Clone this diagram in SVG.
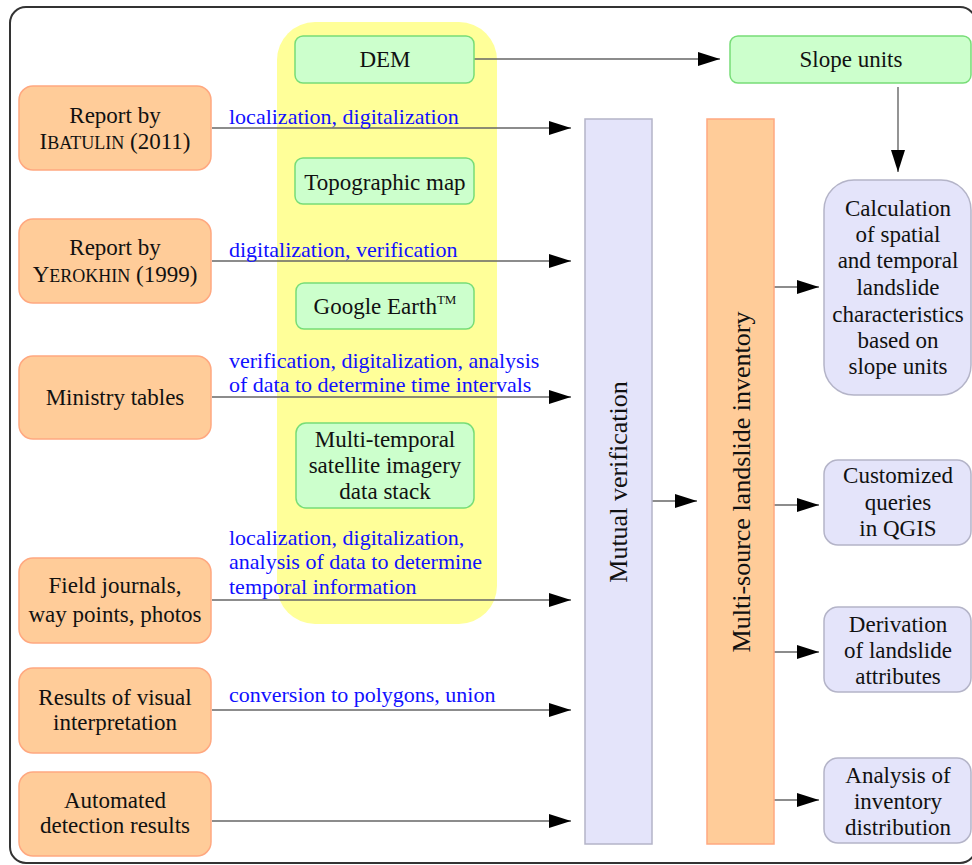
<svg xmlns="http://www.w3.org/2000/svg" width="972" height="865" viewBox="0 0 972 865">
<defs>
<style>
.t{font-family:"Liberation Serif","Times New Roman",serif;font-size:23px;fill:#111;text-anchor:middle}
.lbl{font-family:"Liberation Serif","Times New Roman",serif;font-size:22px;fill:#1010ff}
.big{font-family:"Liberation Serif","Times New Roman",serif;font-size:26px;fill:#111;text-anchor:middle}
.src{fill:#ffcc99;stroke:#ffa880;stroke-width:1.5}
.grn{fill:#ccffcc;stroke:#77dd77;stroke-width:1.5}
.lav{fill:#e4e4fa;stroke:#b4b4c8;stroke-width:1.5}
.ln{stroke:#666;stroke-width:1.4;fill:none;marker-end:url(#ah)}
</style>
<marker id="ah" markerUnits="userSpaceOnUse" markerWidth="22" markerHeight="14" refX="22" refY="7" orient="auto">
<path d="M0,0 L22,7 L0,14 z" fill="#000"/>
</marker>
</defs>
<rect width="972" height="865" fill="#fff"/>
<rect x="10" y="7" width="966" height="856" rx="16" fill="#fff" stroke="#333" stroke-width="2"/>
<rect id="bg-yellow" x="277" y="22" width="220" height="602" rx="38" fill="#ffff99"/>

<g id="connectors">
<line class="ln" x1="474" y1="59" x2="720" y2="59"/>
<line class="ln" x1="898" y1="87" x2="898" y2="172"/>
<line class="ln" x1="212" y1="128" x2="571" y2="128"/>
<line class="ln" x1="212" y1="261" x2="571" y2="261"/>
<line class="ln" x1="212" y1="397" x2="571" y2="397"/>
<line class="ln" x1="212" y1="600" x2="571" y2="600"/>
<line class="ln" x1="212" y1="710" x2="571" y2="710"/>
<line class="ln" x1="212" y1="821" x2="571" y2="821"/>
<line class="ln" x1="652" y1="501" x2="697" y2="501"/>
<line class="ln" x1="774" y1="287" x2="819" y2="287"/>
<line class="ln" x1="774" y1="505" x2="819" y2="505"/>
<line class="ln" x1="774" y1="652" x2="819" y2="652"/>
<line class="ln" x1="774" y1="800" x2="819" y2="800"/>
<text class="lbl" x="229" y="124">localization, digitalization</text>
<text class="lbl" x="229" y="257">digitalization, verification</text>
<text class="lbl" x="229" y="368">verification, digitalization, analysis</text>
<text class="lbl" x="229" y="392">of data to determine time intervals</text>
<text class="lbl" x="229" y="545">localization, digitalization,</text>
<text class="lbl" x="229" y="569">analysis of data to determine</text>
<text class="lbl" x="229" y="594">temporal information</text>
<text class="lbl" x="229" y="702">conversion to polygons, union</text>
</g>

<g id="dem"><rect class="grn" x="295" y="36" width="179" height="47" rx="8"/><text class="t" x="385" y="67">DEM</text></g>
<g id="topo"><rect class="grn" x="295" y="158" width="179" height="46" rx="8"/><text class="t" x="385" y="190">Topographic map</text></g>
<g id="google"><rect class="grn" x="296" y="283" width="178" height="46" rx="8"/><text class="t" x="385" y="314">Google Earth<tspan font-size="13" dy="-10">TM</tspan></text></g>
<g id="satellite"><rect class="grn" x="296" y="423" width="178" height="85" rx="10"/><text class="t" x="385" y="447">Multi-temporal</text><text class="t" x="385" y="473">satellite imagery</text><text class="t" x="385" y="499">data stack</text></g>

<g id="ibatulin"><rect class="src" x="19" y="86" width="192" height="84" rx="14"/><text class="t" x="115" y="123">Report by</text><text class="t" x="115" y="149">I<tspan font-size="18">BATULIN</tspan> (2011)</text></g>
<g id="yerokhin"><rect class="src" x="19" y="219" width="192" height="84" rx="14"/><text class="t" x="115" y="255">Report by</text><text class="t" x="115" y="282">Y<tspan font-size="18">EROKHIN</tspan> (1999)</text></g>
<g id="ministry"><rect class="src" x="19" y="356" width="192" height="83" rx="14"/><text class="t" x="115" y="405">Ministry tables</text></g>
<g id="field"><rect class="src" x="19" y="558" width="192" height="85" rx="14"/><text class="t" x="115" y="593">Field journals,</text><text class="t" x="115" y="622">way points, photos</text></g>
<g id="visual"><rect class="src" x="19" y="668" width="192" height="85" rx="14"/><text class="t" x="115" y="705">Results of visual</text><text class="t" x="115" y="730">interpretation</text></g>
<g id="automated"><rect class="src" x="19" y="772" width="192" height="84" rx="14"/><text class="t" x="115" y="808">Automated</text><text class="t" x="115" y="833">detection results</text></g>

<g id="mutual"><rect class="lav" x="585" y="119" width="67" height="725"/><text class="big" transform="translate(627,482) rotate(-90)">Mutual verification</text></g>
<g id="inventory"><rect x="707" y="119" width="67" height="725" fill="#ffcc99" stroke="#ffa880" stroke-width="1.5"/><text class="big" transform="translate(750,482) rotate(-90)">Multi-source landslide inventory</text></g>

<g id="slope"><rect class="grn" x="730" y="36" width="241" height="47" rx="8"/><text class="t" x="851" y="67">Slope units</text></g>
<g id="calc"><rect class="lav" x="824" y="180" width="147" height="215" rx="30"/>
<text class="t" x="898" y="216">Calculation</text><text class="t" x="898" y="242">of spatial</text><text class="t" x="898" y="268">and temporal</text><text class="t" x="898" y="295">landslide</text><text class="t" x="898" y="322">characteristics</text><text class="t" x="898" y="348">based on</text><text class="t" x="898" y="374">slope units</text></g>
<g id="queries"><rect class="lav" x="824" y="460" width="147" height="85" rx="14"/><text class="t" x="898" y="483">Customized</text><text class="t" x="898" y="510">queries</text><text class="t" x="898" y="536">in QGIS</text></g>
<g id="derivation"><rect class="lav" x="824" y="607" width="147" height="85" rx="14"/><text class="t" x="898" y="632">Derivation</text><text class="t" x="898" y="658">of landslide</text><text class="t" x="898" y="684">attributes</text></g>
<g id="analysis"><rect class="lav" x="824" y="758" width="147" height="85" rx="14"/><text class="t" x="898" y="783">Analysis of</text><text class="t" x="898" y="809">inventory</text><text class="t" x="898" y="835">distribution</text></g>
</svg>
